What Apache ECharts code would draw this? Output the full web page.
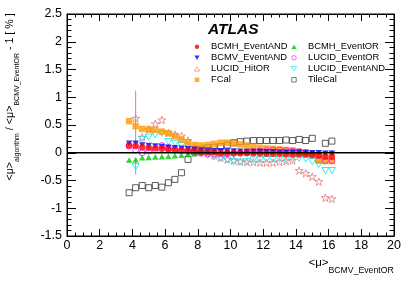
<!DOCTYPE html>
<html><head><meta charset="utf-8">
<script src="https://cdn.jsdelivr.net/npm/echarts@6/dist/echarts.min.js"></script>
<style>html,body{margin:0;padding:0;background:#fff}#c{width:415px;height:281px}</style>
</head><body><div id="c"></div>
<script>
// ---- data ----
const mu = [3.8,4.2,4.6,5.0,5.4,5.8,6.2,6.6,7.0,7.4,7.8,8.2,8.6,9.0,9.4,9.8,10.2,10.6,11.0,11.4,11.8,12.2,12.6,13.0,13.4,13.8,14.2,14.6,15.0,15.4,15.8,16.2];
const bcmhAnd = [0.13,0.12,0.10,0.09,0.08,0.07,0.06,0.05,0.045,0.035,0.03,0.02,0.015,0.01,0.0,0.0,-0.005,-0.01,-0.01,-0.01,-0.015,-0.02,-0.02,-0.02,-0.025,-0.03,-0.03,-0.035,-0.04,-0.05,-0.07,-0.07];
const bcmvAnd = [0.17,0.17,0.14,0.13,0.12,0.11,0.10,0.09,0.08,0.07,0.06,0.05,0.045,0.04,0.035,0.03,0.03,0.025,0.02,0.02,0.02,0.015,0.015,0.01,0.01,0.01,0.01,0.005,0.0,0.0,-0.01,-0.01];
const bcmhOr = [-0.13,-0.125,-0.09,-0.085,-0.075,-0.07,-0.065,-0.055,-0.045,-0.03,-0.015,0.0,0.01,0.015,0.02,0.02,0.02,0.02,0.02,0.025,0.025,0.02,0.02,0.02,0.02,0.02,0.02,0.015,0.01,0.01,0.0,0.0];
const lucidOr = [0.12,0.05,0.0,0.03,0.05,0.13,0.09,0.06,0.04,0.02,0.0,-0.01,-0.02,-0.02,-0.02,-0.02,-0.01,0.0,0.01,0.02,0.03,0.04,0.05,0.05,0.04,0.03,0.02,0.0,-0.02,-0.05,-0.14,-0.14];
const lucidAnd = [null,-0.25,0.24,0.28,0.32,0.35,0.20,0.17,0.13,0.08,0.03,-0.01,-0.05,-0.08,-0.10,-0.13,-0.16,-0.17,-0.16,-0.13,-0.13,-0.12,-0.12,-0.11,-0.12,-0.11,-0.10,-0.11,-0.16,-0.21,-0.32,-0.32];
const lucidHit = [null,0.62,0.28,0.42,0.52,0.59,0.36,0.33,0.30,0.22,0.10,0.05,0.0,-0.05,-0.09,-0.12,-0.14,-0.16,-0.17,-0.17,-0.18,-0.18,-0.18,-0.16,-0.15,-0.14,-0.32,-0.37,-0.43,-0.52,-0.81,-0.83];
const fcal = [0.57,0.48,0.43,0.42,0.41,0.38,0.35,0.30,0.24,0.19,0.14,0.13,0.14,0.16,0.18,0.18,0.17,0.15,0.13,0.11,0.09,0.08,0.07,0.06,0.05,0.04,0.02,0.0,-0.04,-0.13,-0.15,-0.15];
const tileCal = [-0.72,-0.63,-0.59,-0.63,-0.59,-0.62,-0.54,-0.48,-0.36,-0.12,0.02,0.07,0.09,0.10,0.11,0.14,0.18,0.20,0.21,0.22,0.22,0.22,0.22,0.22,0.23,0.22,0.24,0.22,0.26,-0.13,0.17,0.21];
// error bars: [mu, low, high]
const lucidHitErr = [[4.2, 0.12, 1.12]];
const lucidAndErr = [[4.2, -0.39, -0.12]];
const zeroLine = [[0,0],[20,0]];
const xTicks = [0,2,4,6,8,10,12,14,16,18,20];
const yTicks = [-1.5,-1,-0.5,0,0.5,1,1.5,2,2.5];
const legendCol1 = ['BCMH_EventAND','BCMV_EventAND','LUCID_HitOR','FCal'];
const legendCol2 = ['BCMH_EventOR','LUCID_EventOR','LUCID_EventAND','TileCal'];

// ---- chart ----
const FONT = '"Liberation Sans", Arial, Helvetica, sans-serif';
const STAR = 'path://M50,0L61.8,35.4L100,35.4L69.1,57.3L80.9,95.1L50,72.4L19.1,95.1L30.9,57.3L0,35.4L38.2,35.4Z';
const TRI_DOWN = 'path://M0,0L100,0L50,86.6Z';
const TRI_UP = 'path://M50,0L100,86.6L0,86.6Z';
const SQUARE = 'path://M0,0L100,0L100,100L0,100Z';
const CIRCLE = 'path://M50,0A50,50,0,1,1,49.99,0Z';
const C = {red:'#ff0000', blue:'#0000ff', green:'#00cc00', mag:'#ff00ff', cyan:'#00e8f0', orange:'#ff9900', salmon:'#e87878', tile:'#333333'};
const openStyle = c => ({color:'rgba(255,255,255,0)', borderColor:c, borderWidth:1});
const openColors = {'LUCID_HitOR':C.salmon, 'LUCID_EventOR':C.mag, 'LUCID_EventAND':C.cyan, 'TileCal':C.tile};

function pts(arr){ const out=[]; mu.forEach((x,i)=>{ if(arr[i]!=null) out.push([x,arr[i]]); }); return out; }
function sc(name, arr, symbol, size, color, open){
  return {type:'scatter', name, data: pts(arr), symbol, symbolSize: size, symbolKeepAspect:true,
    itemStyle: open ? openStyle(color) : {color, borderWidth:0},
    emphasis:{disabled:true}, silent:true, animation:false};
}
function errSeries(data, color){
  return {type:'custom', data, silent:true, animation:false, encode:{x:0,y:[1,2]},
    renderItem:(p, api)=>{ const a=api.coord([api.value(0),api.value(1)]), b=api.coord([api.value(0),api.value(2)]);
      return {type:'line', shape:{x1:a[0],y1:a[1],x2:b[0],y2:b[1]}, style:{stroke:color, lineWidth:1}}; }};
}
function legendItem(n){
  const it = {name:n};
  if (n === 'LUCID_HitOR') it.icon = TRI_UP;
  if (openColors[n]) it.itemStyle = {color:'rgba(255,255,255,0)', borderColor:openColors[n], borderWidth:0.8};
  return it;
}

const xMin = xTicks[0], xMax = xTicks[xTicks.length-1], xInt = xTicks[1]-xTicks[0];
const yMin = yTicks[0], yMax = yTicks[yTicks.length-1], yInt = yTicks[1]-yTicks[0];
function xAx(pos, labels){ return {type:'value', position:pos, min:xMin, max:xMax, interval:xInt,
  axisLine:{show:true, onZero:false, lineStyle:{color:'#000', width:1}},
  axisTick:{show:true, inside:true, length:7, lineStyle:{color:'#000', width:1}},
  minorTick:{show:true, splitNumber:4, length:3.5, lineStyle:{color:'#000', width:1}},
  splitLine:{show:false}, minorSplitLine:{show:false},
  axisLabel:{show:labels, color:'#000', fontSize:12.5, fontFamily:FONT, margin:3,
    formatter:v=>String(v)}}; }
function yAx(pos, labels){ return {type:'value', position:pos, min:yMin, max:yMax, interval:yInt,
  axisLine:{show:true, onZero:false, lineStyle:{color:'#000', width:1}},
  axisTick:{show:true, inside:true, length:9, lineStyle:{color:'#000', width:1}},
  minorTick:{show:true, splitNumber:5, length:4.5, lineStyle:{color:'#000', width:1}},
  splitLine:{show:false}, minorSplitLine:{show:false},
  axisLabel:{show:labels, color:'#000', fontSize:12.5, fontFamily:FONT, margin:5,
    formatter:v=>String(v)}}; }

const legendBase = {orient:'vertical', itemWidth:18, itemHeight:4.5, itemGap:2.0, padding:0, selectedMode:false,
  symbolKeepAspect:true, textStyle:{fontSize:9.4, fontFamily:FONT, color:'#000'}};

const option = {
  backgroundColor:'#fff',
  animation:false,
  grid:{left:67, right:21, top:14, bottom:45, show:true, borderColor:'#000', borderWidth:1, backgroundColor:'rgba(0,0,0,0)', outerBoundsMode:'none'},
  xAxis:[xAx('bottom', true), xAx('top', false)],
  yAxis:[yAx('left', true), yAx('right', false)],
  legend:[
    Object.assign({}, legendBase, {left:194, top:42.3, data: legendCol1.map(legendItem)}),
    Object.assign({}, legendBase, {left:291, top:42.3, data: legendCol2.map(legendItem)})
  ],
  series:[
    errSeries(lucidHitErr, C.salmon),
    errSeries(lucidAndErr, C.cyan),
    sc('TileCal', tileCal, SQUARE, 6, C.tile, true),
    sc('LUCID_HitOR', lucidHit, STAR, 8, C.salmon, true),
    sc('LUCID_EventAND', lucidAnd, TRI_DOWN, 7, C.cyan, true),
    sc('FCal', fcal, SQUARE, 6.5, C.orange, false),
    sc('LUCID_EventOR', lucidOr, CIRCLE, 6, C.mag, true),
    sc('BCMH_EventOR', bcmhOr, TRI_UP, 6.5, C.green, false),
    sc('BCMV_EventAND', bcmvAnd, TRI_DOWN, 6.5, C.blue, false),
    sc('BCMH_EventAND', bcmhAnd, CIRCLE, 6.5, C.red, false),
    {type:'line', data: zeroLine, symbol:'none', silent:true, animation:false, lineStyle:{color:'#000', width:1.5}, z:5}
  ],
  graphic:[
    {type:'text', x:208, y:30, silent:true, style:{text:'ATLAS', fontFamily:FONT, fontSize:15.5, fontWeight:'bold', fontStyle:'italic', fill:'#000', align:'left', verticalAlign:'middle'}},
    {type:'text', x:13, y:13, rotation:Math.PI/2, silent:true, style:{
      text:'{m|<μ>}{s|algorithm}{m| / <μ>}{s|BCMV_EventOR}{m| - 1 [ % ]}{h| }',
      align:'right', verticalAlign:'middle', fill:'#000',
      rich:{m:{fontSize:10.7, fontFamily:FONT, lineHeight:12, verticalAlign:'top', fill:'#000'},
            s:{fontSize:7.0, fontFamily:FONT, lineHeight:8, verticalAlign:'bottom', fill:'#000'},
            h:{fontSize:1, fontFamily:FONT, lineHeight:16, fill:'#000'}}}},
    {type:'text', x:394, y:266, silent:true, style:{
      text:'{m|<μ>}{s|BCMV_EventOR}{h| }',
      align:'right', verticalAlign:'middle', fill:'#000',
      rich:{m:{fontSize:11.5, fontFamily:FONT, lineHeight:13, verticalAlign:'top', fill:'#000'},
            s:{fontSize:8.7, fontFamily:FONT, lineHeight:9, verticalAlign:'bottom', fill:'#000'},
            h:{fontSize:1, fontFamily:FONT, lineHeight:19, fill:'#000'}}}}
  ]
};
const chart = echarts.init(document.getElementById('c'), null, {renderer:'canvas'});
chart.setOption(option);
</script>
</body></html>
